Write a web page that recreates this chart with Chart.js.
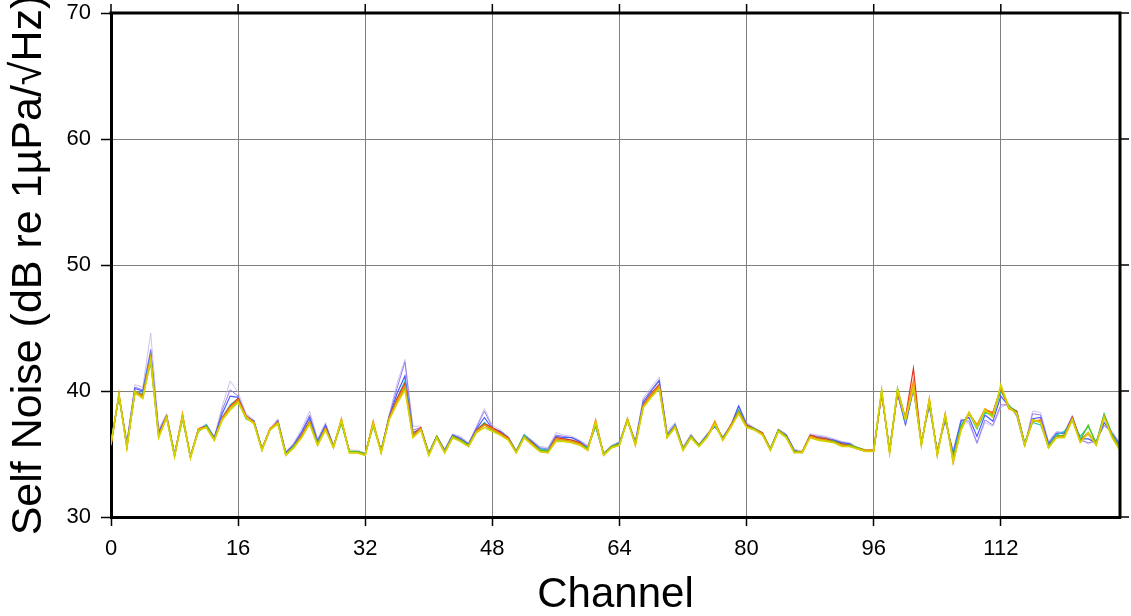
<!DOCTYPE html>
<html>
<head>
<meta charset="utf-8">
<script src="https://cdn.jsdelivr.net/npm/chart.js@4.4.1/dist/chart.umd.min.js"></script>
<style>
    html, body { margin: 0; padding: 0; background: #fff; }
    #wrap { width: 1131px; height: 616px; position: relative; }
</style>
</head>
<body>
<div id="wrap"><canvas id="noise"></canvas></div>
<script>
const CHANNELS = Array.from({length: 128}, (_, i) => i);
const X_TICKS = [0, 16, 32, 48, 64, 80, 96, 112];
const Y_TICKS = [30, 40, 50, 60, 70];

// one array per hydrophone run (dB re 1uPa/sqrt(Hz))
const yellowRun = [
    35.8, 39.7, 35.5, 39.9, 39.4, 42.5, 36.3, 37.9, 34.8, 38.0, 34.7, 36.9, 37.1, 36.1, 37.7, 38.5, 39.1, 37.9, 37.4, 35.3, 36.9,
    37.4, 34.9, 35.5, 36.3, 37.4, 35.7, 36.9, 35.5, 37.7, 35.1, 35.1, 34.9, 37.4, 35.1, 37.7, 39.0, 40.1, 36.3, 36.9, 34.9, 36.3, 35.1,
    36.3, 36.0, 35.6, 36.7, 37.1, 36.8, 36.5, 36.1, 35.1, 36.3, 35.7, 35.2, 35.1, 36.0, 36.0, 35.9, 35.7, 35.3, 37.5, 34.9, 35.5,
    35.7, 37.7, 35.7, 38.7, 39.5, 40.2, 36.3, 37.1, 35.3, 36.3, 35.6, 36.3, 37.4, 36.1, 37.1, 38.2, 37.1, 36.9, 36.5, 35.3, 36.8,
    36.3, 35.1, 35.1, 36.3, 36.1, 36.0, 35.9, 35.6, 35.6, 35.4, 35.2, 35.2, 40.1, 35.1, 40.1, 37.7, 40.3, 35.7, 39.3, 34.9, 38.1, 34.4,
    36.9, 38.3, 37.1, 38.5, 37.9, 40.5, 38.7, 38.2, 35.7, 37.7, 37.5, 35.5, 36.3, 36.3, 37.7, 35.9, 36.7, 35.7, 37.9, 36.3, 35.3
];
const orangeRun = [
    35.7, 39.8, 35.5, 40.0, 39.5, 42.7, 36.4, 38.0, 34.8, 38.2, 34.7, 37.0, 37.1, 36.1, 37.8, 38.7, 39.3, 38.0, 37.5, 35.3, 37.0,
    37.5, 34.9, 35.5, 36.4, 37.5, 35.7, 37.0, 35.5, 37.8, 35.1, 35.1, 34.9, 37.6, 35.1, 37.8, 39.2, 40.4, 36.4, 37.0, 34.9, 36.3, 35.1,
    36.3, 36.0, 35.6, 36.8, 37.3, 37.0, 36.6, 36.2, 35.1, 36.3, 35.8, 35.2, 35.1, 36.2, 36.1, 36.0, 35.8, 35.3, 37.7, 34.9, 35.5,
    35.7, 37.8, 35.7, 38.8, 39.7, 40.4, 36.3, 37.2, 35.3, 36.3, 35.6, 36.3, 37.6, 36.1, 37.2, 38.3, 37.2, 36.9, 36.6, 35.3, 36.8,
    36.3, 35.1, 35.2, 36.4, 36.2, 36.1, 35.9, 35.7, 35.6, 35.4, 35.3, 35.3, 39.9, 35.1, 40.0, 37.8, 40.8, 35.7, 39.4, 34.9, 38.2, 34.3,
    37.0, 38.2, 37.3, 38.6, 38.2, 40.3, 38.6, 38.3, 35.7, 37.6, 37.7, 35.5, 36.3, 36.4, 37.8, 36.0, 36.6, 35.7, 38.0, 36.4, 35.3
];
const greenRun = [
    35.9, 39.6, 35.6, 39.8, 39.6, 42.3, 36.4, 37.9, 34.9, 37.8, 34.8, 36.8, 37.2, 36.2, 37.8, 38.7, 39.2, 37.8, 37.5, 35.4, 36.9,
    37.5, 35.0, 35.6, 36.4, 37.5, 35.8, 37.0, 35.6, 37.5, 35.2, 35.2, 35.0, 37.3, 35.2, 37.8, 39.2, 40.3, 36.4, 37.0, 35.0, 36.4, 35.2,
    36.4, 36.1, 35.7, 36.8, 37.3, 36.9, 36.6, 36.2, 35.2, 36.4, 35.8, 35.3, 35.2, 36.1, 36.1, 36.0, 35.8, 35.4, 37.3, 35.0, 35.6,
    35.8, 37.8, 35.8, 38.8, 39.6, 40.3, 36.4, 37.2, 35.4, 36.4, 35.7, 36.4, 37.3, 36.2, 37.2, 38.4, 37.2, 37.0, 36.6, 35.4, 36.9,
    36.4, 35.2, 35.2, 36.4, 36.2, 36.1, 36.0, 35.7, 35.7, 35.5, 35.3, 35.3, 40.0, 35.2, 40.2, 37.8, 40.4, 35.8, 39.2, 35.0, 38.0, 34.6,
    37.2, 38.2, 37.3, 38.4, 38.1, 40.3, 38.8, 38.3, 35.8, 37.6, 37.6, 35.6, 36.4, 36.5, 37.8, 36.1, 37.3, 35.8, 38.1, 36.5, 35.4
];
const redRun = [
    35.7, 39.7, 35.6, 39.9, 39.7, 42.6, 36.5, 38.0, 34.9, 38.1, 34.8, 37.0, 37.2, 36.2, 37.9, 38.8, 39.4, 38.0, 37.5, 35.4, 37.0,
    37.5, 35.0, 35.6, 36.5, 37.6, 35.8, 37.1, 35.6, 37.7, 35.2, 35.2, 35.0, 37.5, 35.2, 37.9, 39.4, 40.6, 36.5, 37.1, 35.0, 36.4, 35.2,
    36.4, 36.1, 35.7, 36.9, 37.4, 37.1, 36.7, 36.3, 35.2, 36.4, 35.9, 35.3, 35.2, 36.3, 36.2, 36.1, 35.9, 35.4, 37.6, 35.0, 35.6,
    35.8, 37.7, 35.8, 38.9, 39.8, 40.5, 36.4, 37.2, 35.4, 36.4, 35.7, 36.4, 37.5, 36.2, 37.3, 38.4, 37.3, 37.0, 36.7, 35.4, 36.9,
    36.4, 35.2, 35.2, 36.5, 36.3, 36.2, 36.0, 35.8, 35.7, 35.5, 35.3, 35.2, 39.8, 35.2, 39.8, 37.9, 41.8, 35.8, 39.3, 35.0, 38.1, 34.6,
    37.1, 38.3, 37.2, 38.5, 38.3, 40.2, 38.7, 38.4, 35.8, 37.7, 37.6, 35.6, 36.4, 36.5, 37.9, 36.1, 36.7, 35.8, 38.0, 36.5, 35.4
];
const cyanRun = [
    35.9, 39.6, 35.7, 40.0, 39.8, 42.8, 36.5, 37.9, 34.9, 37.9, 34.8, 36.9, 37.3, 36.2, 37.9, 38.9, 39.4, 37.9, 37.5, 35.4, 36.9,
    37.5, 35.0, 35.6, 36.5, 37.6, 35.9, 37.1, 35.6, 37.5, 35.2, 35.2, 35.0, 37.3, 35.2, 37.8, 39.4, 40.8, 36.5, 37.0, 35.0, 36.4, 35.2,
    36.4, 36.1, 35.7, 36.9, 37.5, 37.0, 36.7, 36.3, 35.2, 36.5, 35.9, 35.4, 35.3, 36.3, 36.2, 36.1, 35.9, 35.5, 37.3, 35.0, 35.6,
    35.8, 37.7, 35.8, 38.9, 39.8, 40.5, 36.4, 37.3, 35.4, 36.4, 35.7, 36.4, 37.3, 36.3, 37.2, 38.5, 37.3, 37.0, 36.6, 35.4, 36.9,
    36.4, 35.2, 35.1, 36.4, 36.3, 36.2, 36.0, 35.8, 35.7, 35.4, 35.2, 35.3, 39.9, 35.3, 40.0, 37.6, 40.4, 35.8, 39.1, 35.1, 38.0, 34.8,
    37.3, 38.2, 37.0, 38.3, 38.0, 40.0, 38.8, 38.4, 35.9, 37.5, 37.3, 35.7, 36.5, 36.8, 37.6, 36.4, 37.2, 35.9, 38.2, 36.6, 35.5
];
const blueRun = [
    35.8, 39.7, 35.8, 40.2, 40.0, 43.0, 36.7, 38.0, 35.0, 37.9, 34.8, 36.9, 37.3, 36.3, 38.2, 39.6, 39.5, 38.0, 37.6, 35.4, 36.9,
    37.6, 35.1, 35.7, 36.7, 37.9, 36.0, 37.3, 35.6, 37.5, 35.2, 35.2, 35.0, 37.3, 35.3, 37.9, 39.8, 41.2, 36.7, 37.0, 35.0, 36.4, 35.3,
    36.5, 36.2, 35.8, 37.0, 37.9, 37.0, 36.8, 36.3, 35.2, 36.5, 36.0, 35.4, 35.3, 36.4, 36.3, 36.3, 36.0, 35.5, 37.2, 35.0, 35.6,
    35.9, 37.7, 35.9, 39.1, 40.0, 40.8, 36.5, 37.3, 35.4, 36.4, 35.7, 36.5, 37.2, 36.3, 37.2, 38.8, 37.3, 37.0, 36.6, 35.4, 36.9,
    36.5, 35.3, 35.1, 36.4, 36.3, 36.2, 36.1, 35.9, 35.8, 35.4, 35.2, 35.3, 39.8, 35.3, 39.9, 37.4, 40.2, 35.9, 38.9, 35.2, 37.8, 35.0,
    37.6, 37.9, 36.4, 38.1, 37.6, 39.6, 38.8, 38.3, 35.7, 37.8, 37.9, 35.8, 36.6, 36.7, 37.9, 36.2, 36.2, 35.9, 37.5, 36.6, 35.7
];
const purpleRun = [
    35.8, 39.6, 35.9, 40.3, 40.1, 43.3, 36.8, 38.1, 35.0, 37.9, 34.8, 36.9, 37.3, 36.3, 38.5, 40.1, 39.6, 38.1, 37.6, 35.4, 36.9,
    37.7, 35.1, 35.8, 36.8, 38.1, 36.1, 37.3, 35.7, 37.5, 35.2, 35.2, 35.0, 37.3, 35.3, 38.0, 40.2, 42.3, 36.9, 37.1, 35.1, 36.4, 35.3,
    36.5, 36.3, 35.8, 37.1, 38.4, 37.1, 36.8, 36.3, 35.2, 36.5, 36.0, 35.5, 35.4, 36.5, 36.4, 36.3, 36.0, 35.6, 37.2, 35.0, 35.6,
    35.9, 37.7, 36.0, 39.3, 40.1, 40.9, 36.6, 37.4, 35.5, 36.5, 35.7, 36.5, 37.2, 36.3, 37.2, 38.8, 37.4, 37.0, 36.6, 35.4, 36.9,
    36.5, 35.3, 35.1, 36.5, 36.4, 36.3, 36.1, 35.9, 35.8, 35.4, 35.2, 35.3, 39.7, 35.4, 39.8, 37.3, 40.1, 36.0, 38.8, 35.3, 37.6, 35.2,
    37.7, 37.6, 35.9, 37.7, 37.3, 38.9, 38.9, 38.0, 35.6, 38.2, 38.1, 35.9, 36.7, 36.6, 38.0, 36.1, 35.9, 36.0, 37.3, 36.7, 35.8
];
const lavenderRun = [
    35.8, 39.7, 36.0, 40.5, 40.3, 44.6, 37.0, 38.2, 35.1, 37.9, 34.9, 37.0, 37.4, 36.4, 38.8, 40.8, 39.9, 38.2, 37.7, 35.5, 37.0,
    37.8, 35.2, 35.9, 37.0, 38.4, 36.2, 37.5, 35.7, 37.5, 35.3, 35.3, 35.1, 37.3, 35.4, 38.1, 40.6, 42.5, 37.2, 37.2, 35.2, 36.5, 35.4,
    36.6, 36.4, 35.9, 37.2, 38.6, 37.3, 36.9, 36.4, 35.3, 36.6, 36.1, 35.6, 35.5, 36.7, 36.5, 36.4, 36.1, 35.7, 37.2, 35.1, 35.7,
    36.0, 37.8, 36.1, 39.5, 40.3, 41.1, 36.8, 37.5, 35.6, 36.6, 35.8, 36.6, 37.3, 36.4, 37.3, 38.9, 37.5, 37.1, 36.7, 35.5, 37.0,
    36.6, 35.4, 35.2, 36.6, 36.5, 36.4, 36.2, 36.0, 35.9, 35.5, 35.3, 35.4, 39.6, 35.5, 39.7, 37.2, 40.0, 36.1, 38.7, 35.4, 37.5, 35.3,
    37.8, 37.4, 35.8, 37.5, 37.2, 38.7, 39.0, 38.0, 35.7, 38.4, 38.3, 36.0, 36.8, 36.7, 38.1, 36.2, 35.8, 36.1, 37.2, 36.8, 35.9
];

// first entry is drawn on top
const RUNS = [
    [yellowRun, '#d4d400', 1.6],
    [orangeRun, '#ff8a00', 1.4],
    [greenRun, '#55c81e', 1.4],
    [redRun, '#e63222', 1.2],
    [cyanRun, '#20c8c0', 1.2],
    [blueRun, '#4a5cff', 1.2],
    [purpleRun, '#9a78f0', 1],
    [lavenderRun, 'rgba(190,180,230,0.8)', 1]
];

const FONT = '"Liberation Sans", Arial, Helvetica, sans-serif';

function lineSet([values, color, width]) {
    return {
        data: values,
        borderColor: color,
        borderWidth: width,
        pointRadius: 0,
        tension: 0,
        fill: false
    };
}

const tickOnly = (axisTicks) => ({
    afterBuildTicks: (scale) => { scale.ticks = axisTicks.map((v) => ({value: v})); }
});

// closes the frame on the top and right sides, with outward ticks
const frameBox = {
    id: 'frameBox',
    afterDraw(chart) {
        const {ctx, chartArea: {left, right, top, bottom}, scales: {x, y}} = chart;
        ctx.save();
        ctx.strokeStyle = '#000';
        ctx.lineWidth = 3;
        ctx.beginPath();
        ctx.moveTo(left - 1.5, top);
        ctx.lineTo(right, top);
        ctx.lineTo(right, bottom + 1.5);
        ctx.stroke();
        ctx.lineWidth = 1.5;
        ctx.beginPath();
        for (const v of X_TICKS) {
            const px = x.getPixelForValue(v);
            ctx.moveTo(px, top);
            ctx.lineTo(px, top - 9);
        }
        for (const v of Y_TICKS) {
            const py = y.getPixelForValue(v);
            ctx.moveTo(right, py);
            ctx.lineTo(right + 9, py);
        }
        ctx.stroke();
        ctx.restore();
    }
};

const config = {
    type: 'line',
    data: {
        labels: CHANNELS,
        datasets: RUNS.map(lineSet)
    },
    options: {
        responsive: false,
        animation: false,
        events: [],
        layout: {padding: {top: 13, right: 11, left: 0, bottom: 0}},
        plugins: {legend: {display: false}, tooltip: {enabled: false}},
        scales: {
            x: {
                type: 'linear',
                position: 'bottom',
                min: 0,
                max: 127,
                ...tickOnly(X_TICKS),
                afterFit: (scale) => {
                    scale.height = 99;
                    scale.paddingLeft = 0;
                    scale.paddingRight = 0;
                },
                ticks: {
                    font: {family: FONT, size: 22},
                    color: '#000',
                    padding: 10,
                    maxRotation: 0,
                    autoSkip: false
                },
                grid: {color: '#7f7f7f', lineWidth: 1, tickColor: '#000', tickLength: 9, tickWidth: 1.5},
                border: {color: '#000', width: 3},
                title: {
                    display: true,
                    text: 'Channel',
                    color: '#000',
                    font: {family: FONT, size: 42, lineHeight: 1},
                    padding: {top: 0, bottom: 0}
                }
            },
            y: {
                type: 'linear',
                position: 'left',
                min: 30,
                max: 70,
                ...tickOnly(Y_TICKS),
                afterFit: (scale) => {
                    scale.width = 111;
                    scale.paddingTop = 0;
                    scale.paddingBottom = 0;
                },
                ticks: {
                    font: {family: FONT, size: 22},
                    color: '#000',
                    padding: 10
                },
                grid: {color: '#7f7f7f', lineWidth: 1, tickColor: '#000', tickLength: 10, tickWidth: 1.5},
                border: {color: '#000', width: 3},
                title: {
                    display: true,
                    text: 'Self Noise (dB re 1\u00b5Pa/\u221aHz)',
                    color: '#000',
                    font: {family: FONT, size: 43, lineHeight: 1},
                    padding: {top: 8, bottom: 0}
                }
            }
        }
    },
    plugins: [frameBox]
};

const canvas = document.getElementById('noise');
canvas.width = 1131;
canvas.height = 616;
const noiseChart = new Chart(canvas, config);
</script>
</body>
</html>
